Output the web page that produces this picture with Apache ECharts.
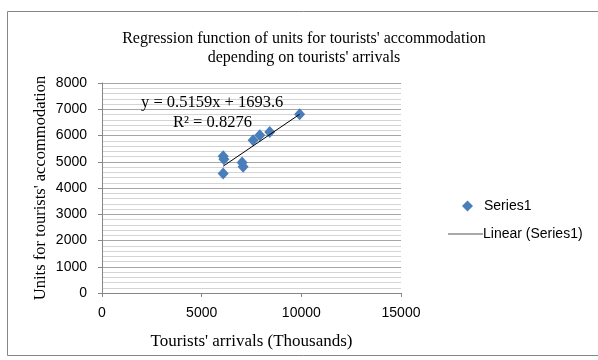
<!DOCTYPE html>
<html>
<head>
<meta charset="utf-8">
<script src="https://cdn.jsdelivr.net/npm/echarts@6/dist/echarts.min.js"></script>
<style>html,body{margin:0;padding:0;background:#fff}#c{width:598px;height:360px}</style>
</head>
<body>
<div id="c"></div>
<script>
// Data
var arrivals = [9915, 8415, 7915, 7580, 6080, 6115, 6080, 7030, 7080];
var units    = [6809, 6138, 6012, 5822, 5214, 5100, 4557, 4975, 4808];
var slope = 0.5159, intercept = 1693.6;
var equationText = 'y = 0.5159x + 1693.6';
var r2Text = 'R² = 0.8276';
var xTicks = [0, 5000, 10000, 15000];
var yTicks = [0, 1000, 2000, 3000, 4000, 5000, 6000, 7000, 8000];

var points = arrivals.map(function (x, i) { return [x, units[i]]; });
var xMin = Math.min.apply(null, arrivals), xMax = Math.max.apply(null, arrivals);
var trend = [[xMin, slope * xMin + intercept], [xMax, slope * xMax + intercept]];

var serif = '"Liberation Serif", "Times New Roman", serif';
var sans = '"Liberation Sans", Arial, sans-serif';
function plain(v) { return String(v); }

var chart = echarts.init(document.getElementById('c'));
chart.setOption({
  animation: false,
  backgroundColor: '#fff',
  title: {
    text: 'Regression function of units for tourists\' accommodation\ndepending on tourists\' arrivals',
    left: 299, top: 24, textAlign: 'center',
    textStyle: { fontFamily: serif, fontSize: 16, fontWeight: 'normal', color: '#000', lineHeight: 19 }
  },
  legend: [{
    data: ['Series1'], orient: 'vertical', left: 457, top: 194,
    icon: 'diamond', itemWidth: 11, itemHeight: 11, itemGap: 10,
    textStyle: { fontFamily: sans, fontSize: 14, color: '#000', padding: [0, 0, 0, 6] }
  }, {
    data: [{ name: 'Linear (Series1)', icon: 'rect' }], orient: 'vertical', left: 443, top: 222,
    itemWidth: 35, itemHeight: 1, itemGap: 10,
    itemStyle: { color: '#555' },
    textStyle: { fontFamily: sans, fontSize: 14, color: '#000', padding: [0, 0, 0, -5] }
  }],
  grid: { left: 102, right: 197, top: 83, bottom: 67 },
  xAxis: {
    type: 'value', min: 0, max: 15000, interval: 5000,
    name: 'Tourists\' arrivals (Thousands)', nameLocation: 'middle', nameGap: 40,
    nameTextStyle: { fontFamily: serif, fontSize: 17, color: '#000' },
    axisLine: { show: true, onZero: false, lineStyle: { color: '#868686' } },
    axisTick: { show: true, length: 4, lineStyle: { color: '#868686' } },
    axisLabel: { fontFamily: sans, fontSize: 14, color: '#000', margin: 13,
      customValues: xTicks, formatter: plain },
    splitLine: { show: false }
  },
  yAxis: {
    type: 'value', min: 0, max: 8000, interval: 1000,
    name: 'Units for tourists\' accommodation', nameLocation: 'middle', nameGap: 53,
    nameTextStyle: { fontFamily: serif, fontSize: 16.5, color: '#000' },
    axisLine: { show: true, lineStyle: { color: '#868686' } },
    axisTick: { show: true, length: 4, lineStyle: { color: '#868686' } },
    axisLabel: { fontFamily: sans, fontSize: 14, color: '#000', margin: 15,
      customValues: yTicks, formatter: plain },
    splitLine: { show: true, lineStyle: { color: '#a6a6a6', width: 1 } },
    minorTick: { show: false, splitNumber: 5 },
    minorSplitLine: { show: true, lineStyle: { color: '#d4d4d4', width: 1 } }
  },
  series: [{
    name: 'Series1', type: 'scatter', data: points,
    symbol: 'diamond', symbolSize: [11, 12],
    itemStyle: { color: '#4A7EBB', opacity: 1 }, z: 3
  }, {
    name: 'Linear (Series1)', type: 'line', data: trend,
    symbol: 'none', lineStyle: { color: '#000', width: 1 },
    itemStyle: { color: '#555' }, z: 4
  }],
  graphic: [{
    type: 'rect', shape: { x: 7.5, y: 11.5, width: 600, height: 344 },
    style: { fill: 'none', stroke: '#868686', lineWidth: 1 }, z: -10, silent: true
  }, {
    type: 'text', left: 141, top: 94,
    style: { text: equationText, font: '16.5px ' + serif, fill: '#000' }, z: 10
  }, {
    type: 'text', left: 173, top: 114,
    style: { text: r2Text, font: '16.5px ' + serif, fill: '#000' }, z: 10
  }]
});
</script>
</body>
</html>
